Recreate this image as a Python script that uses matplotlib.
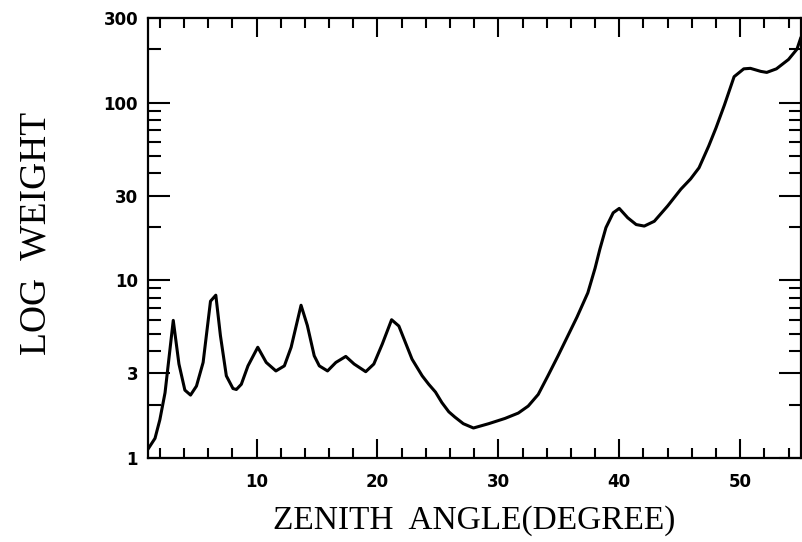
import numpy as np
import matplotlib.pyplot as plt
from matplotlib.ticker import FixedLocator, FixedFormatter, NullFormatter

# curve (zenith angle in degrees, weight)
angle = [1.05, 1.6, 2.0, 2.43, 3.11, 3.58, 4.07, 4.54, 5.03, 5.58, 6.19, 6.63,
         7.01, 7.5, 8.05, 8.33, 8.74, 9.29, 10.1, 10.8, 11.6, 12.3, 12.86, 13.68,
         14.2, 14.77, 15.19, 15.87, 16.56, 17.38, 18.07, 19.03, 19.7, 20.4, 21.17,
         21.77, 22.86, 23.7, 24.24, 24.8, 25.33, 25.9, 26.4, 27.1, 27.94, 29.2,
         30.55, 31.65, 32.47, 33.3, 34.1, 34.94, 35.76, 36.5, 37.4, 38.0, 38.4,
         38.9, 39.5, 40.0, 40.7, 41.4, 42.07, 42.9, 44.0, 45.1, 45.9, 46.6, 47.4,
         48.0, 48.7, 49.5, 50.3, 50.85, 51.7, 52.2, 53.0, 54.0, 54.7, 55.0]
weight = [1.13, 1.29, 1.64, 2.33, 5.95, 3.38, 2.41, 2.26, 2.54, 3.45, 7.63, 8.25,
          4.89, 2.9, 2.46, 2.43, 2.6, 3.3, 4.2, 3.45, 3.09, 3.3, 4.2, 7.24,
          5.57, 3.76, 3.3, 3.09, 3.45, 3.73, 3.38, 3.06, 3.38, 4.38, 6.0,
          5.53, 3.6, 2.9, 2.6, 2.35, 2.05, 1.82, 1.70, 1.56, 1.475, 1.56,
          1.67, 1.79, 1.96, 2.28, 2.9, 3.76, 4.89, 6.2, 8.5, 11.7, 15.0,
          19.8, 24.0, 25.4, 22.5, 20.6, 20.2, 21.5, 26.2, 32.6, 37.2, 43, 57,
          72, 97, 140, 155, 156, 150, 148, 155, 175, 200, 230]

x_major = [10, 20, 30, 40, 50]
x_minor = [2, 4, 6, 8, 12, 14, 16, 18, 22, 24, 26, 28, 32, 34, 36, 38,
           42, 44, 46, 48, 52, 54]
y_major = [1, 3, 10, 30, 100, 300]
y_minor = [2, 4, 5, 6, 7, 8, 9, 20, 40, 50, 60, 70, 80, 90, 200]

fig = plt.figure(figsize=(8.03, 5.42), dpi=100)
ax = fig.add_axes([0.184, 0.155, 0.813, 0.812])
ax.plot(angle, weight, color='black', lw=2.2)

ax.set_yscale('log')
ax.set_xlim(1, 55)
ax.set_ylim(1, 300)

ax.xaxis.set_major_locator(FixedLocator(x_major))
ax.xaxis.set_minor_locator(FixedLocator(x_minor))
ax.yaxis.set_major_locator(FixedLocator(y_major))
ax.yaxis.set_minor_locator(FixedLocator(y_minor))
ax.yaxis.set_major_formatter(FixedFormatter([str(v) for v in y_major]))
ax.yaxis.set_minor_formatter(NullFormatter())

ax.tick_params(which='both', direction='in', top=True, right=True, width=1.5)
ax.tick_params(axis='x', which='major', length=14, pad=11)
ax.tick_params(axis='x', which='minor', length=7)
ax.tick_params(axis='y', which='major', length=16, pad=7)
ax.tick_params(axis='y', which='minor', length=9)
for lab in ax.get_xticklabels() + ax.get_yticklabels():
    lab.set_fontweight('bold')
    lab.set_fontsize(12)
    lab.set_family('DejaVu Sans')

for s in ax.spines.values():
    s.set_linewidth(1.6)

fig.text(0.591, 0.040, 'ZENITH  ANGLE(DEGREE)', ha='center', va='center',
         fontsize=24, family='Liberation Serif')
fig.text(0.045, 0.57, 'LOG  WEIGHT', ha='center', va='center', rotation=90,
         fontsize=27, family='Liberation Serif')

fig.savefig('out.png', dpi=100)
